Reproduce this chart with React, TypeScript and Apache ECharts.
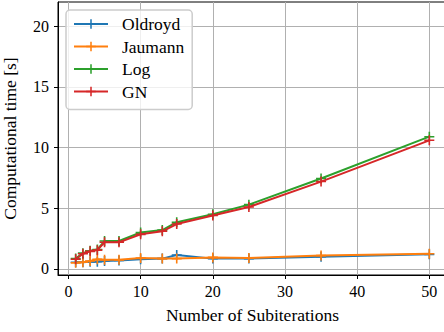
import React, { useEffect, useRef } from "react";
import * as echarts from "echarts";

const subiterations = [1, 2, 3, 4, 5, 7, 10, 13, 15, 20, 25, 35, 50];
const oldroyd = [0.55, 0.55, 0.6, 0.6, 0.65, 0.7, 0.8, 0.85, 1.15, 0.85, 0.85, 1.0, 1.2];
const jaumann = [0.5, 0.55, 0.65, 0.8, 0.75, 0.75, 0.9, 0.85, 0.85, 0.95, 0.9, 1.1, 1.25];
const logSeries = [0.85, 1.3, 1.5, 1.6, 2.3, 2.3, 3.0, 3.2, 3.85, 4.5, 5.3, 7.45, 10.9];
const gn = [0.8, 1.25, 1.45, 1.55, 2.2, 2.2, 2.85, 3.1, 3.7, 4.4, 5.1, 7.2, 10.6];
const xTicks = [0, 10, 20, 30, 40, 50];
const yTicks = [0, 5, 10, 15, 20];
const seriesNames = ["Oldroyd", "Jaumann", "Log", "GN"];
const colors = ["#1f77b4", "#ff7f0e", "#2ca02c", "#d62728"];

const PLUS = "path://M4.2,0 h1.6 v4.2 h4.2 v1.6 h-4.2 v4.2 h-1.6 v-4.2 h-4.2 v-1.6 h4.2 z";
const FONT = "Liberation Serif";

export default function App() {
  const ref = useRef<HTMLDivElement>(null);
  useEffect(() => {
    document.body.style.margin = "0";
    document.body.style.overflow = "hidden";
    const chart = echarts.init(ref.current!, undefined, { renderer: "svg" });
    const data = [oldroyd, jaumann, logSeries, gn];
    chart.setOption({
      animation: false,
      backgroundColor: "#ffffff",
      textStyle: { fontFamily: FONT },
      grid: {
        left: 58,
        top: 2,
        right: 0,
        bottom: 57,
        show: true,
        borderColor: "#000",
        borderWidth: 1,
        containLabel: false,
        outerBoundsMode: "none",
      },
      legend: {
        left: 66,
        top: 10,
        orient: "vertical",
        itemWidth: 34,
        itemHeight: 12,
        itemGap: 4.5,
        padding: [5, 8, 9, 7],
        backgroundColor: "rgba(255,255,255,0.8)",
        borderColor: "#cccccc",
        borderWidth: 1.5,
        borderRadius: 4,
        textStyle: {
          fontFamily: FONT,
          fontSize: 17.5,
          color: "#000",
          lineHeight: 18,
          padding: [0, 0, 0, 9],
        },
        data: seriesNames,
      },
      xAxis: {
        type: "value",
        min: -1.45,
        max: 52.45,
        name: "Number of Subiterations",
        nameLocation: "middle",
        nameGap: 31,
        nameTextStyle: { fontFamily: FONT, fontSize: 17.5, color: "#000" },
        axisLine: { show: true, onZero: false, lineStyle: { color: "#000", width: 1 } },
        axisTick: { show: true, inside: false, length: 4, lineStyle: { color: "#000" }, customValues: xTicks },
        axisLabel: { fontFamily: FONT, fontSize: 16, color: "#000", margin: 8, customValues: xTicks },
        splitLine: { show: true, lineStyle: { color: "#b0b0b0", width: 1 } },
      },
      yAxis: {
        type: "value",
        min: -0.5,
        max: 22,
        name: "Computational time [s]",
        nameLocation: "middle",
        nameGap: 39,
        nameTextStyle: { fontFamily: FONT, fontSize: 17.5, color: "#000" },
        axisLine: { show: true, onZero: false, lineStyle: { color: "#000", width: 1 } },
        axisTick: { show: true, inside: false, length: 4, lineStyle: { color: "#000" }, customValues: yTicks },
        axisLabel: { fontFamily: FONT, fontSize: 16, color: "#000", margin: 9, customValues: yTicks },
        splitLine: { show: true, lineStyle: { color: "#b0b0b0", width: 1 } },
      },
      series: seriesNames.map((name, i) => ({
        name,
        type: "line",
        data: subiterations.map((x, j) => [x, data[i][j]]),
        symbol: PLUS,
        symbolSize: 10,
        showAllSymbol: true,
        lineStyle: { color: colors[i], width: 2 },
        itemStyle: { color: colors[i], borderWidth: 0 },
        z: 2 + i,
      })),
    });
    return () => chart.dispose();
  }, []);
  return <div ref={ref} style={{ position: "absolute", left: 0, top: 0, width: 447, height: 332 }} />;
}
